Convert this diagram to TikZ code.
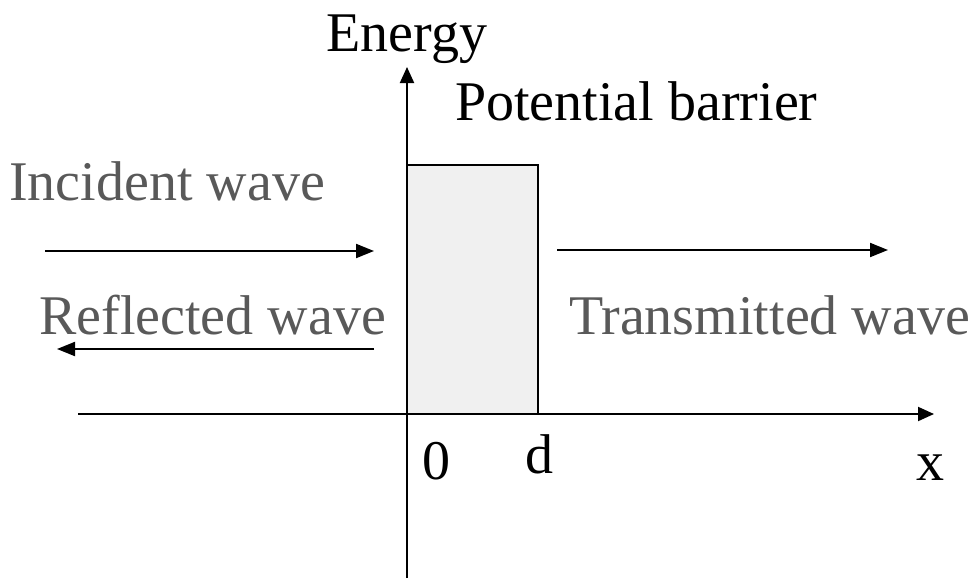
\documentclass[tikz,border=0pt]{standalone}
\usepackage{fontspec}
\setmainfont{Liberation Serif}
\usetikzlibrary{arrows.meta}
\definecolor{barink}{HTML}{000000}
\definecolor{barwave}{HTML}{595959}
\definecolor{barfill}{HTML}{F0F0F0}
\tikzset{
  lbl/.style={anchor=base, inner sep=0pt, font=\fontsize{56}{60}\selectfont, color=barink},
  wlbl/.style={lbl, anchor=base west, color=barwave},
  ax/.style={-{Triangle[length=16pt, width=14pt]}, line width=2pt, color=barink},
  wv/.style={-{Triangle[length=18pt, width=14pt]}, line width=2pt, color=barink},
}
\begin{document}
\begin{tikzpicture}[x=1pt, y=-1pt]
  \useasboundingbox (0,0) rectangle (974,581);
  % barrier
  \draw[line width=2pt, fill=barfill] (407,165) rectangle (538,414);
  % axes
  \coordinate (ybot) at (407,578);
  \coordinate (ytop) at (407,67);
  \coordinate (xleft) at (78,414);
  \coordinate (xright) at (934,414);
  \draw[ax] (ybot) -- (ytop);
  \draw[ax] (xleft) -- (xright);
  % waves
  \coordinate (inca) at (45,251);
  \coordinate (incb) at (374,251);
  \coordinate (refa) at (374,349);
  \coordinate (refb) at (57,349);
  \coordinate (tra) at (557,250);
  \coordinate (trb) at (888,250);
  \draw[wv] (inca) -- (incb);
  \draw[wv] (refa) -- (refb);
  \draw[wv] (tra) -- (trb);
  % labels
  \node[lbl] (energy) at (407,51) {Energy};
  \node[lbl, anchor=base west] (barrier) at (455,120) {Potential barrier};
  \node[wlbl] (incident) at (9,200) {Incident wave};
  \node[wlbl] (reflected) at (39,334) {Reflected wave};
  \node[wlbl] (transmitted) at (569,334) {Transmitted wave};
  \node[lbl] (zero) at (436,479) {0};
  \node[lbl] (dee) at (539,473) {d};
  \node[lbl] (ex) at (930,480) {x};
\end{tikzpicture}
\end{document}
